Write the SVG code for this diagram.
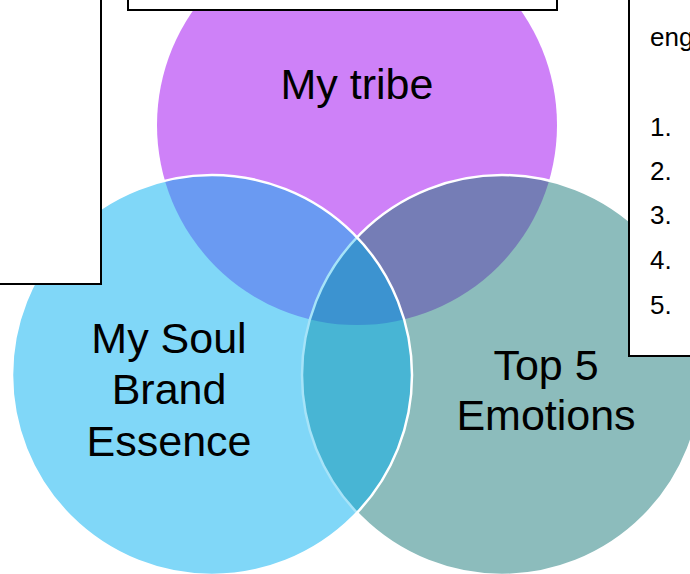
<svg xmlns="http://www.w3.org/2000/svg" width="690" height="574" viewBox="0 0 690 574">
<style>
.lbl{font-family:"Liberation Sans",Arial,sans-serif;font-size:43px;fill:#000;text-anchor:middle}
.sm{font-family:"Liberation Sans",Arial,sans-serif;font-size:26px;fill:#000}
.box{fill:#fff;stroke:#000;stroke-width:2}
</style>
<defs>
<clipPath id="cP"><circle cx="357" cy="125" r="200"/></clipPath>
<clipPath id="cL"><circle cx="212" cy="375" r="200"/></clipPath>
<clipPath id="cR"><circle cx="502" cy="375" r="200"/></clipPath>
</defs>
<g id="venn">
<circle id="tribe" cx="357" cy="125" r="200" fill="#CE81F8"/>
<circle id="emotions" cx="502" cy="375" r="200" fill="#8CBCBC"/>
<circle cx="502" cy="375" r="200" fill="#757DB6" clip-path="url(#cP)"/>
<circle cx="502" cy="375" r="200" fill="none" stroke="#fff" stroke-width="2.5"/>
<circle id="soul" cx="212" cy="375" r="200" fill="#80D7F8"/>
<circle cx="212" cy="375" r="200" fill="#6A9AF2" clip-path="url(#cP)"/>
<circle cx="212" cy="375" r="200" fill="#48B5D4" clip-path="url(#cR)"/>
<g clip-path="url(#cP)"><circle cx="212" cy="375" r="200" fill="#3C93D0" clip-path="url(#cR)"/></g>
<circle cx="502" cy="375" r="200" fill="none" stroke="#A6E3F8" stroke-width="2.5" clip-path="url(#cL)"/>
<circle cx="212" cy="375" r="200" fill="none" stroke="#fff" stroke-width="2.5"/>
</g>
<g id="labels">
<text class="lbl" x="357" y="99">My tribe</text>
<text class="lbl" x="169" y="353">My Soul</text>
<text class="lbl" x="169" y="404">Brand</text>
<text class="lbl" x="169" y="456">Essence</text>
<text class="lbl" x="546" y="380">Top 5</text>
<text class="lbl" x="546" y="430">Emotions</text>
</g>
<g id="box-left"><rect class="box" x="-5" y="-5" width="106" height="289"/></g>
<g id="box-top"><rect class="box" x="128" y="-5" width="429" height="15"/></g>
<g id="box-right">
<rect class="box" x="629" y="-5" width="70" height="361"/>
<text class="sm" x="650" y="46">eng</text>
<text class="sm" x="650" y="136">1.</text>
<text class="sm" x="650" y="180">2.</text>
<text class="sm" x="650" y="224">3.</text>
<text class="sm" x="650" y="269">4.</text>
<text class="sm" x="650" y="314">5.</text>
</g>
</svg>
